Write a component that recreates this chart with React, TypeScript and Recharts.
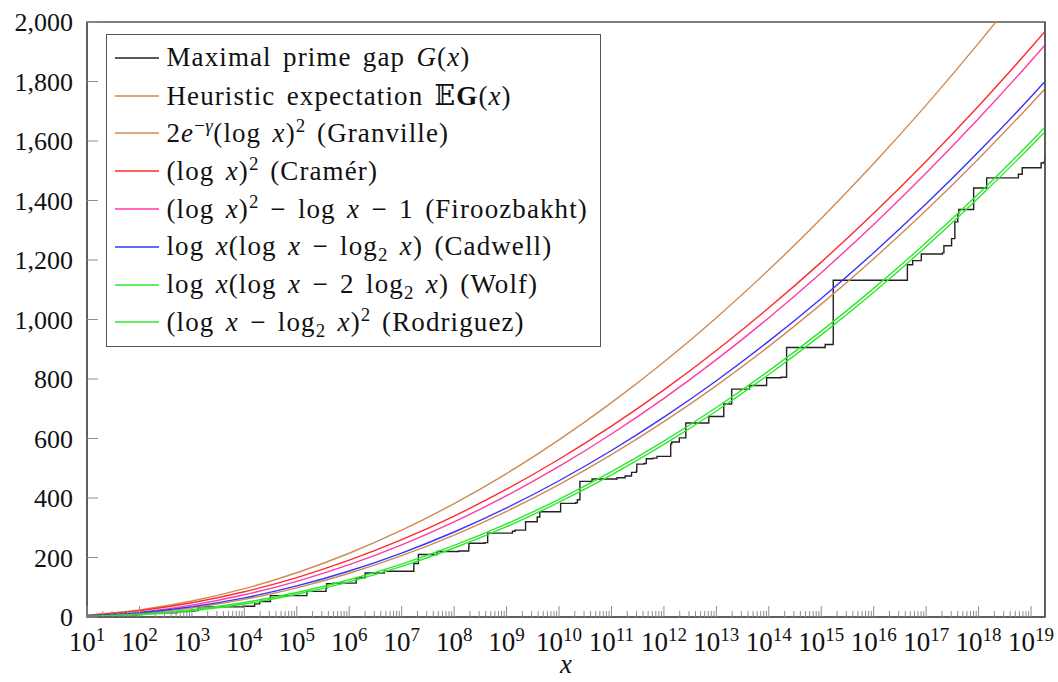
import type { ReactNode } from "react";
import { Legend, Line, LineChart, ReferenceArea, XAxis, YAxis } from "recharts";

// x positions are log10(x); the plot runs from 10^1 to 2^64
const xMaxExponent = 19.266;
const decadeExponents = [1, 2, 3, 4, 5, 6, 7, 8, 9, 10, 11, 12, 13, 14, 15, 16, 17, 18, 19, 19.266];

const heuristic = [2.1, 11.6, 30.6, 59.3, 98.1, 147.0, 206.1, 275.5, 355.2, 445.3, 545.7, 656.6, 777.8, 909.5, 1051.6, 1204.2, 1367.2, 1540.7, 1724.6, 1775.3];
const granville = [6.0, 23.8, 53.6, 95.3, 148.8, 214.3, 291.7, 381.0, 482.2, 595.4, 720.4, 857.3, 1006.2, 1166.9, 1339.6, 1524.1, 1720.6, 1929.0, 2149.3, 2209.9];
const cramer = [5.3, 21.2, 47.7, 84.8, 132.5, 190.9, 259.8, 339.3, 429.5, 530.2, 641.5, 763.5, 896.0, 1039.2, 1192.9, 1357.3, 1532.3, 1717.8, 1914.0, 1968.0];
const firoozbakht = [2.0, 15.6, 39.8, 74.6, 120.0, 176.1, 242.7, 319.9, 407.7, 506.2, 615.2, 734.8, 865.1, 1005.9, 1157.4, 1319.5, 1492.1, 1675.4, 1869.2, 1922.6];
const cadwell = [3.4, 14.2, 34.4, 64.4, 104.4, 154.6, 215.0, 285.7, 366.6, 458.0, 559.7, 671.8, 794.3, 927.2, 1070.6, 1224.4, 1388.7, 1563.5, 1748.7, 1799.7];
const wolf = [1.5, 7.1, 21.0, 43.9, 76.3, 118.3, 170.2, 232.0, 303.8, 385.8, 477.8, 580.1, 692.5, 815.3, 948.3, 1091.5, 1245.2, 1409.1, 1583.4, 1631.5];
const rodriguez = [2.2, 9.5, 24.8, 48.9, 82.3, 125.2, 177.9, 240.5, 313.0, 395.6, 488.3, 591.1, 704.1, 827.3, 960.8, 1104.6, 1258.6, 1423.0, 1597.7, 1645.9];

// record (maximal) prime gaps and the prime where each one starts
const gapAtStart = 4;
const recordPrimes = [
  23, 89, 113, 523, 887, 1129, 1327, 9551, 15683, 19609, 31397, 155921, 360653, 370261, 492113,
  1349533, 1357201, 2010733, 4652353, 17051707, 20831323, 47326693, 122164747, 189695659,
  191912783, 387096133, 436273009, 1294268491, 1453168141, 2300942549, 3842610773, 4302407359,
  10726904659, 20678048297, 22367084959, 25056082087, 42652618343, 127976334671, 182226896239,
  241160624143, 297501075799, 303371455241, 304599508537, 416608695821, 461690510011,
  614487453523, 738832927927, 1346294310749, 1408695493609, 1968188556461, 2614941710599,
  7177162611713, 13829048559701, 19581334192423, 42842283925351, 90874329411493,
  171231342420521, 218209405436543, 1189459969825483, 1686994940955803, 1693182318746371,
  43841547845541059, 55350776431903243, 80873624627234849, 203986478517455989,
  218034721194214273, 305405826521087869, 352521223451364323, 401429925999153707,
  418032645936712127, 804212830686677669, 1425172824437699411, 5733241593241196731,
  6787988999657777797, 15570628755536096243, 17678654157568189057, 18361375334787046697,
];
const recordGaps = [
  6, 8, 14, 18, 20, 22, 34, 36, 44, 52, 72, 86, 96, 112, 114, 118, 132, 148, 154, 180, 210, 220,
  222, 234, 248, 250, 282, 288, 292, 320, 336, 354, 382, 384, 394, 456, 464, 468, 474, 486, 490,
  500, 514, 516, 532, 534, 540, 582, 588, 602, 652, 674, 716, 766, 778, 804, 806, 906, 916, 924,
  1132, 1184, 1198, 1220, 1224, 1248, 1272, 1328, 1356, 1370, 1442, 1476, 1488, 1510, 1526, 1530,
  1550,
];

const yTicks = [0, 200, 400, 600, 800, 1000, 1200, 1400, 1600, 1800, 2000];
const majorExponents = [1, 2, 3, 4, 5, 6, 7, 8, 9, 10, 11, 12, 13, 14, 15, 16, 17, 18, 19];
const minorMultipliers = [2, 3, 4, 5, 6, 7, 8, 9];

const SERIF = '"Liberation Serif", "DejaVu Serif", serif';
const AXIS = "#555";
const TICK = "#8f8f8f";

const colors = {
  gap: "#222222",
  heuristic: "#cf8b52",
  granville: "#cf8b52",
  cramer: "#ff2b2b",
  firoozbakht: "#ff3aa8",
  cadwell: "#3535ff",
  wolf: "#2ee62e",
  rodriguez: "#2ee62e",
};

const curveData = decadeExponents.map((lx, i) => ({
  lx,
  heuristic: heuristic[i],
  granville: granville[i],
  cramer: cramer[i],
  firoozbakht: firoozbakht[i],
  cadwell: cadwell[i],
  wolf: wolf[i],
  rodriguez: rodriguez[i],
}));

const gapData = [
  { lx: 1, gap: gapAtStart },
  ...recordPrimes.map((p, i) => ({ lx: Math.log10(p), gap: recordGaps[i] })),
  { lx: xMaxExponent, gap: recordGaps[recordGaps.length - 1] },
];

const xTicks = [
  ...majorExponents,
  ...majorExponents.flatMap((e) =>
    minorMultipliers.map((m) => e + Math.log10(m)).filter((v) => v < xMaxExponent),
  ),
];

const I = ({ children }: { children: ReactNode }) => (
  <span style={{ fontStyle: "italic" }}>{children}</span>
);
const Sup = ({ children }: { children: ReactNode }) => (
  <sup style={{ fontSize: "0.7em", lineHeight: 0, letterSpacing: 0.5 }}>{children}</sup>
);
const Sub = ({ children }: { children: ReactNode }) => (
  <sub style={{ fontSize: "0.7em", lineHeight: 0 }}>{children}</sub>
);

const legendRows: { key: keyof typeof colors; label: ReactNode }[] = [
  { key: "gap", label: <>Maximal prime gap <I>G</I>(<I>x</I>)</> },
  { key: "heuristic", label: <>Heuristic expectation 𝔼<b>G</b>(<I>x</I>)</> },
  { key: "granville", label: <>2<I>e</I><Sup>−<I>γ</I></Sup>(log <I>x</I>)<Sup>2</Sup> (Granville)</> },
  { key: "cramer", label: <>(log <I>x</I>)<Sup>2</Sup> (Cramér)</> },
  { key: "firoozbakht", label: <>(log <I>x</I>)<Sup>2</Sup> − log <I>x</I> − 1 (Firoozbakht)</> },
  { key: "cadwell", label: <>log <I>x</I>(log <I>x</I> − log<Sub>2</Sub> <I>x</I>) (Cadwell)</> },
  { key: "wolf", label: <>log <I>x</I>(log <I>x</I> − 2 log<Sub>2</Sub> <I>x</I>) (Wolf)</> },
  { key: "rodriguez", label: <>(log <I>x</I> − log<Sub>2</Sub> <I>x</I>)<Sup>2</Sup> (Rodriguez)</> },
];

function MathLegend() {
  return (
    <div
      style={{
        width: 495,
        height: 313,
        boxSizing: "border-box",
        border: `1.5px solid ${AXIS}`,
        background: "#fff",
        padding: "4px 0 0 7.5px",
        fontFamily: SERIF,
        fontSize: 27,
        letterSpacing: 1.1,
        wordSpacing: 3.5,
        color: "#111",
      }}
    >
      {legendRows.map((row) => (
        <div key={row.key} style={{ display: "flex", alignItems: "center", height: 37.8, whiteSpace: "nowrap" }}>
          <svg width={44} height={4} style={{ marginRight: 8, flex: "none" }}>
            <line x1={0} x2={44} y1={2} y2={2} stroke={colors[row.key]} strokeWidth={1.5} />
          </svg>
          <span>{row.label}</span>
        </div>
      ))}
    </div>
  );
}

function LogTick(props: any) {
  const { x, y, payload } = props;
  const v = payload.value as number;
  const major = Math.abs(v - Math.round(v)) < 1e-9;
  return (
    <g>
      <line x1={x} x2={x} y1={y} y2={y - (major ? 11 : 6)} stroke={TICK} strokeWidth={1} />
      {major ? (
        <text x={x} y={y + 34} textAnchor="middle" fontFamily={SERIF} fontSize={27} fill="#111">
          10
          <tspan dy={-10} fontSize={19}>
            {Math.round(v)}
          </tspan>
        </text>
      ) : null}
    </g>
  );
}

const curveKeys = ["heuristic", "granville", "cramer", "firoozbakht", "cadwell", "wolf", "rodriguez"] as const;

export default function App() {
  return (
    <div style={{ position: "absolute", left: 0, top: 0, width: 1058, height: 682, background: "#fff" }}>
      <LineChart width={1058} height={682} data={curveData} margin={{ top: 22, right: 0, bottom: 0, left: 0 }}>
        <XAxis
          type="number"
          dataKey="lx"
          domain={[1, xMaxExponent]}
          allowDataOverflow
          ticks={xTicks}
          interval={0}
          tickSize={0}
          tickMargin={0}
          tickLine={false}
          axisLine={{ stroke: AXIS, strokeWidth: 1.5 }}
          tick={(p: any) => <LogTick {...p} />}
          height={65}
          label={{
            value: "x",
            position: "insideBottom",
            offset: 9,
            style: { fontFamily: SERIF, fontStyle: "italic", fontSize: 27, fill: "#111" },
          }}
        />
        <YAxis
          domain={[0, 2000]}
          ticks={yTicks}
          interval={0}
          allowDataOverflow
          width={87}
          tickSize={-11}
          tickMargin={25}
          axisLine={{ stroke: AXIS, strokeWidth: 1.5 }}
          tickLine={{ stroke: TICK }}
          tick={{ fontFamily: SERIF, fontSize: 26, fill: "#111" }}
          tickFormatter={(v: number) => v.toLocaleString("en-US")}
        />
        <YAxis
          yAxisId="right"
          orientation="right"
          domain={[0, 2000]}
          ticks={yTicks}
          interval={0}
          width={13}
          tickSize={-11}
          axisLine={{ stroke: AXIS, strokeWidth: 1.5 }}
          tickLine={{ stroke: TICK }}
          tick={() => <g />}
        />
        <ReferenceArea x1={1} x2={xMaxExponent} y1={0} y2={2000} fill="none" stroke={AXIS} strokeWidth={1.5} />
        <Line
          data={gapData}
          dataKey="gap"
          type="stepAfter"
          stroke={colors.gap}
          strokeWidth={1.4}
          dot={false}
          activeDot={false}
          isAnimationActive={false}
        />
        {curveKeys.map((k) => (
          <Line
            key={k}
            dataKey={k}
            type="monotone"
            stroke={colors[k]}
            strokeWidth={1.4}
            dot={false}
            activeDot={false}
            isAnimationActive={false}
          />
        ))}
        <Legend
          layout="vertical"
          align="center"
          verticalAlign="middle"
          content={() => <MathLegend />}
          wrapperStyle={{ top: 34, left: 106, width: 495, height: 313 }}
        />
      </LineChart>
    </div>
  );
}
